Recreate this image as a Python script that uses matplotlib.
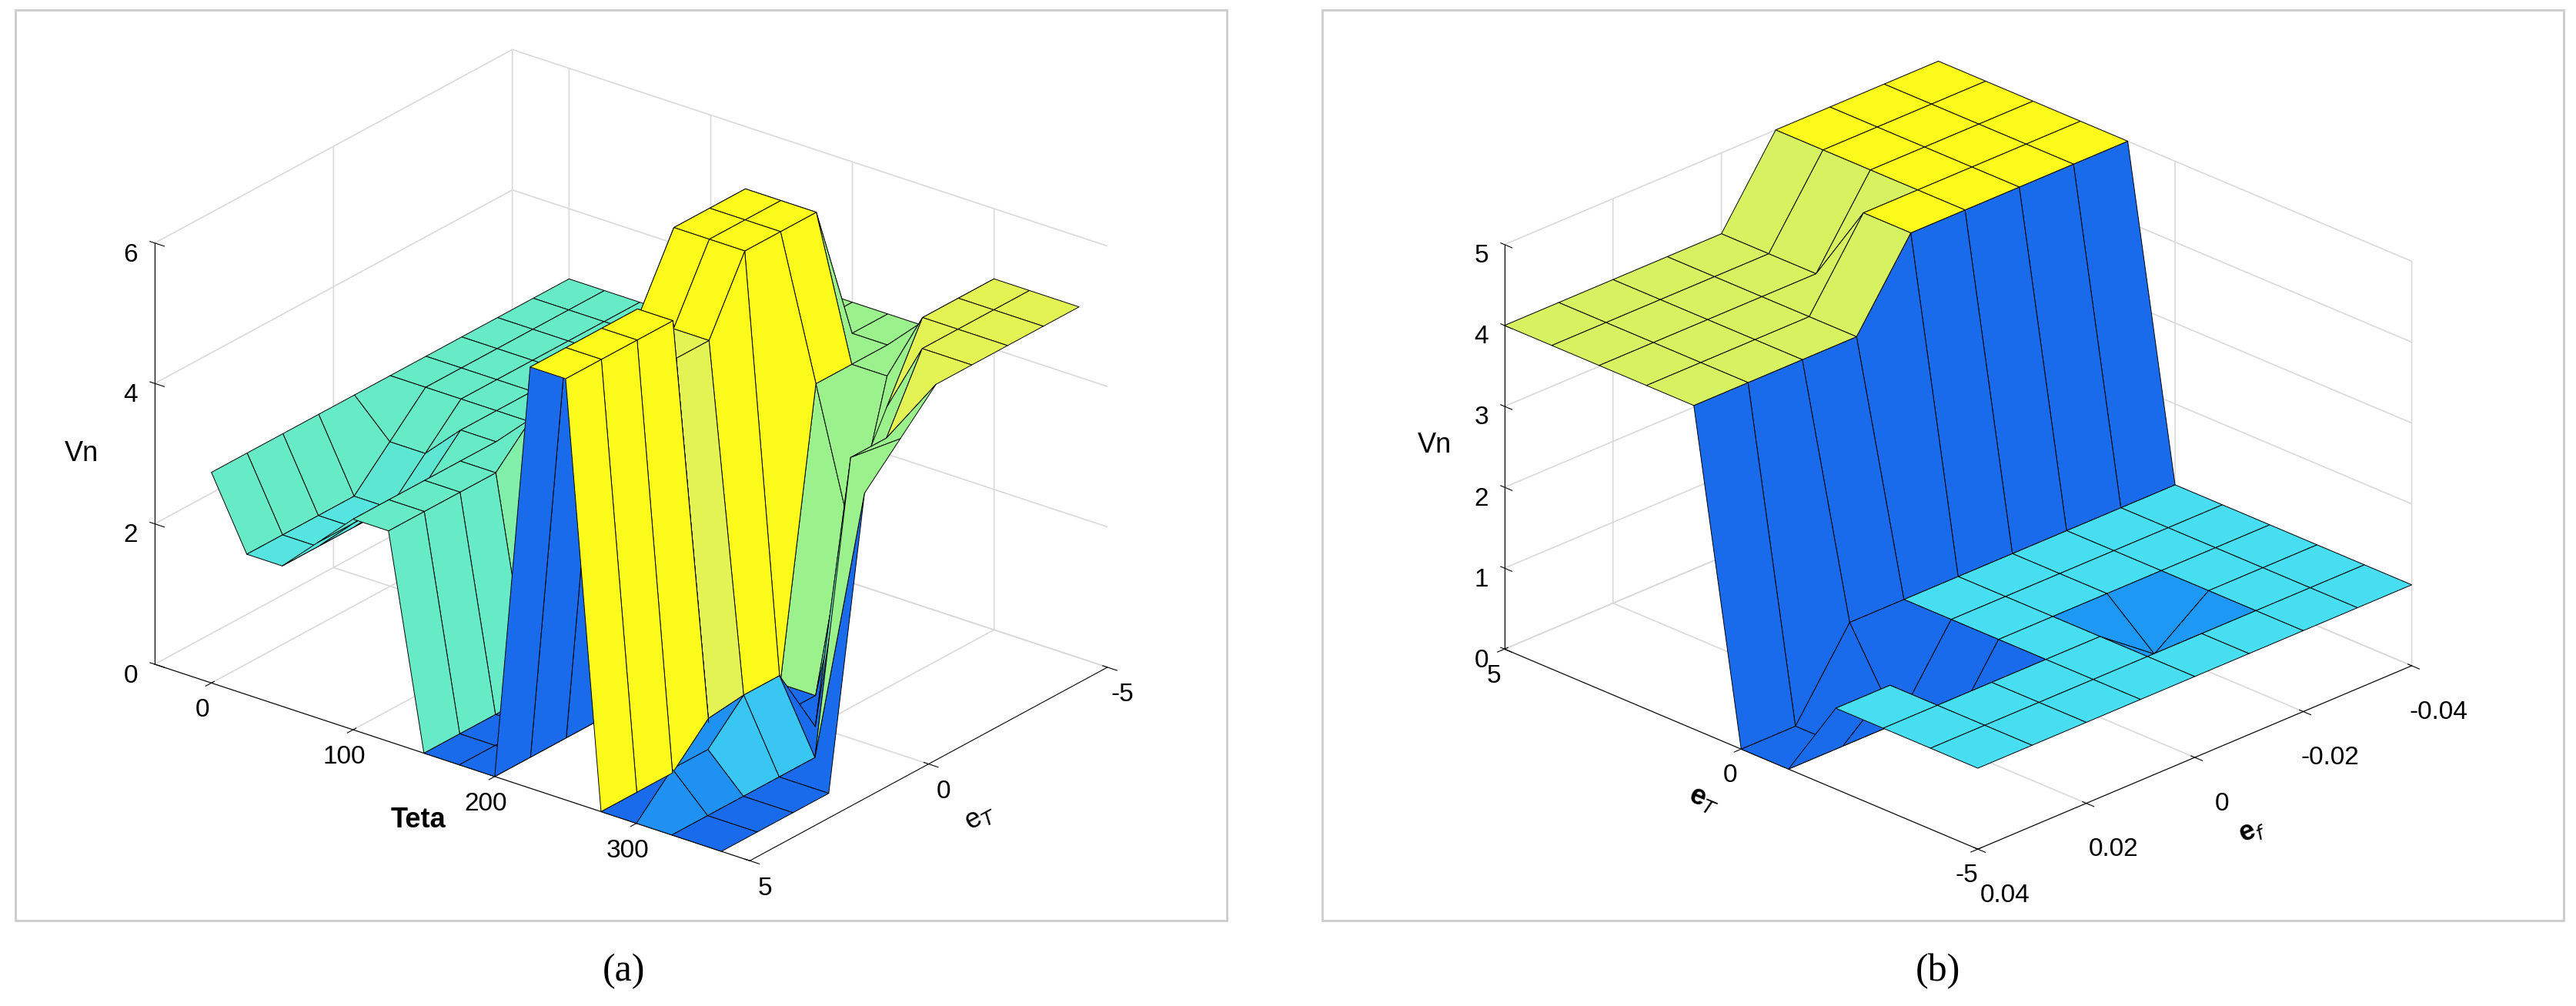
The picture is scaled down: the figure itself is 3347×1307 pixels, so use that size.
import numpy as np
import matplotlib.pyplot as plt
from matplotlib.colors import LinearSegmentedColormap, Normalize

# parula-ish map, as the surface viewer shows it (zero level is mid blue)
parula = LinearSegmentedColormap.from_list(
    "parula",
    [(0.0, (0.10, 0.42, 0.92)), (0.1, (0.12, 0.60, 0.96)),
     (0.2, (0.28, 0.87, 0.95)), (0.5, (0.40, 0.92, 0.78)),
     (0.7, (0.65, 0.95, 0.50)), (0.82, (0.88, 0.95, 0.35)),
     (1.0, (0.99, 0.98, 0.10))],
)

# ---- panel (a) data ----
teta_a = [0, 25, 50, 75, 100, 125, 150, 175, 200, 225, 250, 275, 300, 325, 360]
et_a = [-5, -4, -3, -2, -1, 0, 1, 2, 3, 4, 5]
vn_a = [
    [3, 3, 3, 3, 3, 3.5, 4, 4, 4, 4, 4, 4.5, 5, 5, 5],
    [3, 3, 3, 3, 3, 3.5, 4, 4, 4, 4, 4, 4.5, 5, 5, 5],
    [3, 3, 3, 3, 3, 3.5, 4, 6, 6, 6, 4, 4, 5, 5, 5],
    [3, 3, 3, 3, 3, 3.5, 4, 6, 6, 6, 4, 2, 4, 5, 5],
    [3, 3, 3, 3, 3, 3.5, 4.5, 6, 6, 6, 0, 0, 3, 4, 5],
    [3, 3, 3, 3, 3, 3.5, 4.5, 5, 5, 5, 0, 0, 0, 4, 4.5],
    [3, 2.5, 2.5, 3, 3, 3.5, 4, 5, 5, 5, 0, 0.5, 1, 0, 4],
    [3, 2, 2, 2.5, 3, 3, 0, 0, 0, 6, 6, 0.5, 1, 0, 0],
    [3, 2, 2, 2.5, 3, 3, 0, 0, 0, 6, 6, 0, 0.5, 0, 0],
    [3, 2, 2, 2.5, 3, 3, 0, 0, 0, 6, 6, 0, 0.5, 0, 0],
    [3, 2, 2, 2.5, 3, 3, 0, 0, 0, 6, 6, 0, 0, 0, 0],
]

# ---- panel (b) data ----
et_b = [5, 4, 3, 2, 1, 0, -1, -2, -3, -4, -5]
ef_b = [0.04, 0.03, 0.02, 0.01, 0, -0.01, -0.02, -0.03, -0.04]
vn_b = [
    [4, 4, 4, 4, 4, 0, 0, 1, 1, 1, 1],
    [4, 4, 4, 4, 4, 0, 0, 1, 1, 1, 1],
    [4, 4, 4, 4, 4, 1, 0, 0, 1, 1, 1],
    [4, 4, 4, 4, 4, 1, 1, 1, 1, 1, 1],
    [4, 4, 4, 5, 5, 1, 1, 1, 1, 1, 1],
    [5, 5, 5, 5, 5, 1, 1, 1, 0.5, 1, 1],
    [5, 5, 5, 5, 5, 1, 1, 1, 1, 1, 1],
    [5, 5, 5, 5, 5, 1, 1, 1, 1, 1, 1],
    [5, 5, 5, 5, 5, 1, 1, 1, 1, 1, 1],
]

fig = plt.figure(figsize=(33.48, 13.07), dpi=100)
plt.rcParams["font.family"] = ["Liberation Sans", "DejaVu Sans"]


def style(ax):
    ax.set_proj_type("ortho")
    for axis in (ax.xaxis, ax.yaxis, ax.zaxis):
        axis.set_pane_color((1, 1, 1, 1))
        axis._axinfo["grid"]["color"] = (0.85, 0.85, 0.85)
        axis._axinfo["grid"]["linewidth"] = 1.2
    # z axis on the left-hand side, like MATLAB
    ax.zaxis._axinfo["juggled"] = (1, 2, 0)
    ax.tick_params(labelsize=24)


def surf(ax, x, y, z, vmax, walls_blue=False):
    X, Y = np.meshgrid(x, y)
    Z = np.array(z, dtype=float)
    cz = Z.copy()
    if walls_blue:
        corners = [Z[:-1, :-1], Z[1:, :-1], Z[:-1, 1:], Z[1:, 1:]]
        lo = np.minimum.reduce(corners)
        hi = np.maximum.reduce(corners)
        cz[:-1, :-1] = np.where(hi - lo > 1.5, 0, lo)
    cols = parula(Normalize(0, vmax)(cz))
    ax.plot_surface(X, Y, Z, facecolors=cols, edgecolor="k", linewidth=0.7,
                    shade=False, rstride=1, cstride=1)


# panel (a)
ax1 = fig.add_axes([0.0, 0.07, 0.48, 0.93], projection="3d")
surf(ax1, teta_a, et_a, vn_a, 6)
style(ax1)
ax1.set_xlim(-40, 380)
ax1.set_ylim(5, -5)
ax1.set_zlim(0, 6)
ax1.set_xticks([0, 100, 200, 300])
ax1.set_yticks([-5, 0, 5])
ax1.set_yticklabels(["-5", "0", "5"])
ax1.set_zticks([0, 2, 4, 6])
ax1.set_xlabel("Teta", fontsize=26, labelpad=22, fontweight="bold")
ax1.set_ylabel("e$_T$", fontsize=26, labelpad=18)
ax1.set_zlabel("Vn", fontsize=26, labelpad=14)
ax1.view_init(elev=25, azim=-52)
ax1.set_box_aspect((1.3, 1, 0.8), zoom=1.1)

# panel (b)
ax2 = fig.add_axes([0.51, 0.07, 0.49, 0.93], projection="3d")
surf(ax2, et_b, ef_b, vn_b, 5, walls_blue=True)
style(ax2)
ax2.set_xlim(5, -5)
ax2.set_ylim(0.04, -0.04)
ax2.set_zlim(0, 5)
ax2.set_xticks([5, 0, -5])
ax2.set_xticklabels(["5", "0", "-5"])
ax2.set_yticks([0.04, 0.02, 0, -0.02, -0.04])
ax2.set_yticklabels(["0.04", "0.02", "0", "-0.02", "-0.04"])
ax2.set_zticks([0, 1, 2, 3, 4, 5])
ax2.tick_params(axis="y", pad=18)
ax2.set_xlabel("e$_T$", fontsize=26, labelpad=18, fontweight="bold")
ax2.set_ylabel("e$_f$", fontsize=26, labelpad=34, fontweight="bold")
ax2.set_zlabel("Vn", fontsize=26, labelpad=14)
ax2.view_init(elev=25, azim=-45)
ax2.set_box_aspect((1.2, 1.1, 0.8), zoom=1.05)

# panel frames and captions
for x0, w in [(0.006, 0.47), (0.513, 0.482)]:
    fig.patches.append(plt.Rectangle((x0, 0.085), w, 0.905, transform=fig.transFigure,
                                     fill=False, edgecolor=(0.8, 0.8, 0.8), lw=2))
fig.text(0.242, 0.025, "(a)", fontsize=36, family="Liberation Serif", ha="center")
fig.text(0.752, 0.025, "(b)", fontsize=36, family="Liberation Serif", ha="center")

fig.savefig("out.png", dpi=100)
